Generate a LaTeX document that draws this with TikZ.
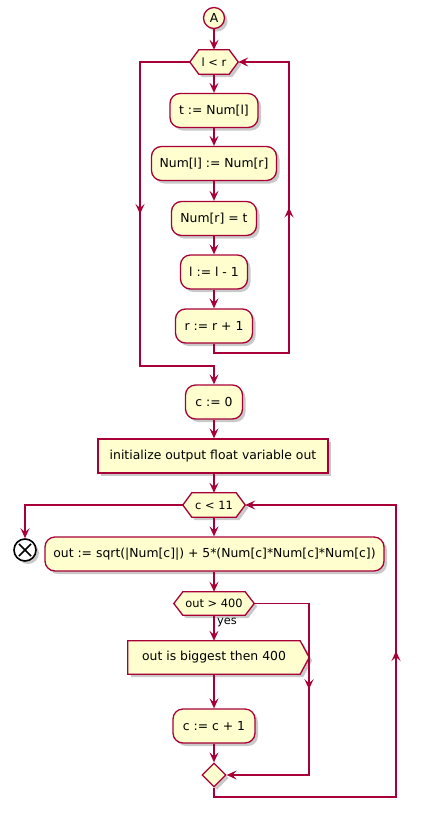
\documentclass[tikz,border=0pt]{standalone}
\usepackage{fontspec}
\setmainfont{DejaVu Sans}
\usetikzlibrary{arrows.meta,shadows,shapes.geometric,calc}
\pgfdeclarelayer{bg}
\pgfsetlayers{bg,main}
\definecolor{pfill}{HTML}{FEFECE}
\definecolor{pline}{HTML}{A80036}
\tikzset{
 shad/.style={drop shadow={shadow xshift=3pt,shadow yshift=-3pt,opacity=0.3,fill=black!70}},
 bigfont/.style={font=\fontsize{12.4}{14}\selectfont},
 smallfont/.style={font=\fontsize{11.4}{13}\selectfont},
 act/.style={draw=pline,fill=pfill,line width=1.3pt,rounded corners=10pt,minimum height=34pt,inner xsep=3pt,inner ysep=0pt,bigfont,shad},
 flat/.style={draw=pline,fill=pfill,line width=1.3pt,minimum height=34pt,inner xsep=3pt,inner ysep=0pt,bigfont,shad},
 hextext/.style={minimum height=24pt,inner sep=0pt,smallfont},
 hexfill/.style={draw=pline,fill=pfill,line width=1.3pt,shad},
 ptip/.tip={Stealth[length=10pt,width=9pt,inset=4pt]},
 conn/.style={draw=pline,line width=1.3pt,-ptip},
 wire/.style={draw=pline,line width=1.3pt},
}
\newcommand\myhex[2]{%
 \begin{pgfonlayer}{bg}
 \path[hexfill] (#1.west) -- ([xshift=#2]#1.north west) -- ([xshift=-#2]#1.north east) -- (#1.east) -- ([xshift=-#2]#1.south east) -- ([xshift=#2]#1.south west) -- cycle;
 \end{pgfonlayer}}
\begin{document}
\begin{tikzpicture}[x=1pt,y=-1pt]
\useasboundingbox (0,0) rectangle (421,820);
% nodes
\node[circle,draw=pline,fill=pfill,line width=1.3pt,minimum size=21pt,inner sep=0pt,bigfont,shad] (A) at (214,18) {A};
\node[hextext,minimum width=48pt] (lr) at (214,62) {l < r};
\myhex{lr}{9pt}
\node[act,minimum width=88pt] (b1) at (214,110.5) {t := Num[l]};
\node[act,minimum width=125pt] (b2) at (214,163.5) {Num[l] := Num[r]};
\node[act,minimum width=85pt] (b3) at (214,218.5) {Num[r] = t};
\node[act,minimum width=67pt] (b4) at (214,272) {l := l - 1};
\node[act,minimum width=77pt] (b5) at (214,326) {r := r + 1};
\node[act,minimum width=57pt] (c0) at (214,402) {c := 0};
\node[flat,minimum width=230pt] (init) at (213,456) {initialize output float variable out};
\node[hextext,minimum width=62pt] (c11) at (214,505) {c < 11};
\myhex{c11}{9pt}
\node[circle,draw=black,fill=white,line width=1.6pt,minimum size=22pt,inner sep=0pt,shad] (stop) at (25,550) {};
\draw[black,line width=1.6pt] ($(stop.center)!0.72!(stop.north east)$) -- ($(stop.center)!0.72!(stop.south west)$);
\draw[black,line width=1.6pt] ($(stop.center)!0.72!(stop.north west)$) -- ($(stop.center)!0.72!(stop.south east)$);
\node[act,minimum width=339pt] (sq) at (214.5,554) {out := sqrt(|Num[c]|) + 5*(Num[c]*Num[c]*Num[c])};
\node[hextext,minimum width=80pt,minimum height=23pt] (o4) at (214,603.5) {out > 400};
\myhex{o4}{9pt}
\node[minimum width=172pt,minimum height=33pt,inner sep=0pt,bigfont] (sig) at (214,657.5) {out is biggest then 400};
\begin{pgfonlayer}{bg}
\path[hexfill] (sig.north west) -- (sig.north east) -- ([xshift=9pt]sig.east) -- (sig.south east) -- (sig.south west) -- cycle;
\end{pgfonlayer}
\node[act,minimum width=82pt] (cc) at (214,726) {c := c + 1};
\node[diamond,draw=pline,fill=pfill,line width=1.3pt,minimum width=24pt,minimum height=24pt,inner sep=0pt,shad] (mg) at (214,775) {};
\node[smallfont,anchor=base west,inner sep=0pt] (yes) at (217,624.5) {yes};
% coordinates
\coordinate (L1) at (140,366);
\coordinate (J1) at (214,366);
\coordinate (R1) at (214,353);
\coordinate (R2) at (289,353);
\coordinate (Q2) at (309,775);
\coordinate (B1) at (214,797);
\coordinate (B2) at (396,797);
% connectors
\draw[conn] (A.south) -- (lr.north);
\draw[conn] (lr.south) -- (b1.north);
\draw[conn] (b1.south) -- (b2.north);
\draw[conn] (b2.south) -- (b3.north);
\draw[conn] (b3.south) -- (b4.north);
\draw[conn] (b4.south) -- (b5.north);
\draw[conn] (b5.south) -- (R1) -- (R2) |- (lr.east);
\draw[conn] (R2) -- ($(R2)!0.5!(R2 |- lr.east)$);
\draw[conn] (lr.west) -| (L1) -- (J1) -- (c0.north);
\draw[conn] (lr.west -| L1) -- ($(lr.west -| L1)!0.5!(L1)$);
\draw[conn] (c0.south) -- (init.north -| c0.south);
\draw[conn] (init.south -| c11.north) -- (c11.north);
\draw[conn] (c11.west) -| (stop.north);
\draw[conn] (c11.south) -- (sq.north -| c11.south);
\draw[conn] (sq.south -| o4.north) -- (o4.north);
\draw[conn] (o4.south) -- (sig.north);
\draw[conn] (sig.south) -- (cc.north);
\draw[conn] (cc.south) -- (mg.north);
\draw[conn] (o4.east) -| (Q2) -- (mg.east);
\draw[conn] (o4.east -| Q2) -- ($(o4.east -| Q2)!0.5!(Q2)$);
\draw[conn] (mg.south) -- (B1) -- (B2) |- (c11.east);
\draw[conn] (B2) -- ($(B2)!0.5!(B2 |- c11.east)$);
\end{tikzpicture}
\end{document}
